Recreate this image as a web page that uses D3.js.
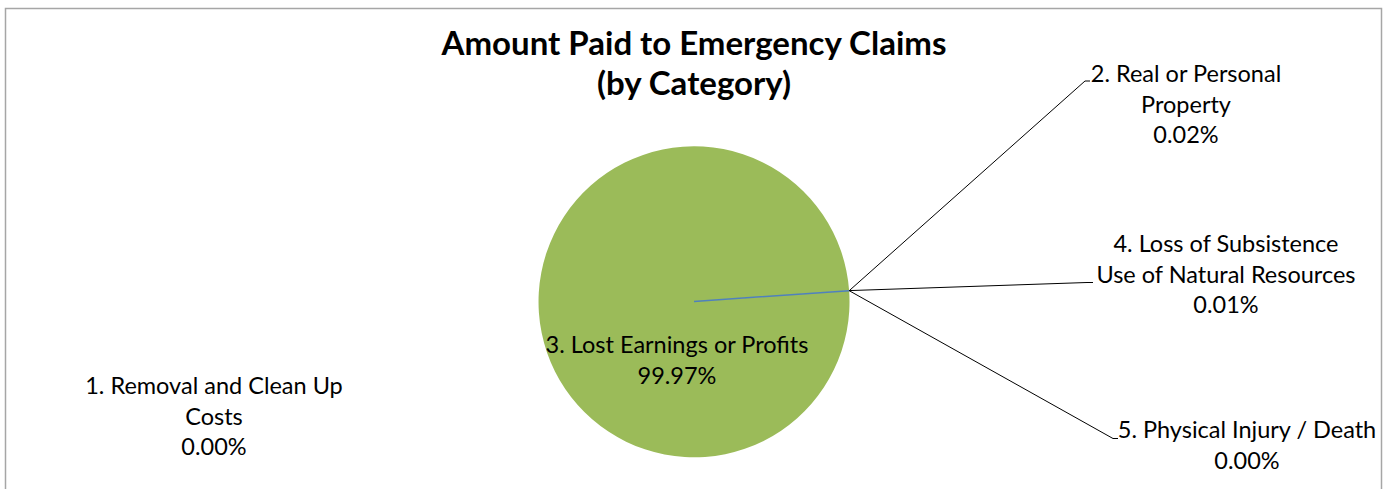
<!DOCTYPE html>
<html>
<head>
<meta charset="utf-8">
<script src="https://cdn.jsdelivr.net/npm/d3@7"></script>
<style>
  html, body { margin: 0; padding: 0; background: #fff; }
  svg { display: block; }
  text { font-family: Lato, "Open Sans", sans-serif; fill: #000; }
</style>
</head>
<body>
<script>
// ---- data ----
const categories = [
  "1. Removal and Clean Up Costs",
  "2. Real or Personal Property",
  "3. Lost Earnings or Profits",
  "4. Loss of Subsistence Use of Natural Resources",
  "5. Physical Injury / Death"
];
const labelLines = [
  ["1. Removal and Clean Up", "Costs"],
  ["2. Real or Personal", "Property"],
  ["3. Lost Earnings or Profits"],
  ["4. Loss of Subsistence", "Use of Natural Resources"],
  ["5. Physical Injury / Death"]
];
const percentValues = [0.00, 0.02, 99.97, 0.01, 0.00];
const sliceColors = ["#4F81BD", "#C0504D", "#9BBB59", "#8064A2", "#4BACC6"];
const titleLines = ["Amount Paid to Emergency Claims", "(by Category)"];

// ---- layout ----
const W = 1386, H = 489;
const cx = 694, cy = 301.5, R = 155.5;
const firstSliceAngle = 86 * Math.PI / 180;
// label anchor (center x, first baseline) and leader elbow
const labelLayout = [
  { x: 214, y: 394, leader: null },
  { x: 1186, y: 82, leader: [[1085, 81], [1090, 81]] },
  { x: 677, y: 353, leader: null },
  { x: 1226, y: 252, leader: [[1087, 282.5], [1093, 282.5]] },
  { x: 1247, y: 438, leader: [[1113, 438.5], [1118, 438.5]] }
];
const lineGap = 30.5;

const svg = d3.select("body").append("svg").attr("width", W).attr("height", H);

svg.append("rect")
  .attr("x", 5.5).attr("y", 8.5)
  .attr("width", 1376).attr("height", H + 20)
  .attr("fill", "#fff").attr("stroke", "#A6A6A6").attr("stroke-width", 1.5);

// title
svg.append("text")
  .attr("x", 694).attr("y", 55)
  .attr("text-anchor", "middle")
  .style("font-weight", "bold").style("font-size", "33px")
  .selectAll("tspan").data(titleLines).join("tspan")
  .attr("x", 694).attr("dy", (d, i) => i === 0 ? 0 : 40)
  .text(d => d);

const data = categories.map((c, i) => ({ name: c, value: percentValues[i], color: sliceColors[i], i }));
const pie = d3.pie().sort(null).value(d => d.value)
  .startAngle(firstSliceAngle).endAngle(firstSliceAngle + 2 * Math.PI);
const arcs = pie(data);
const arc = d3.arc().innerRadius(0).outerRadius(R);

const g = svg.append("g").attr("transform", `translate(${cx},${cy})`);
// big slice first, tiny slices on top
const order = arcs.slice().sort((a, b) => (b.endAngle - b.startAngle) - (a.endAngle - a.startAngle));
g.selectAll("path.slice").data(order).join("path")
  .attr("class", "slice")
  .attr("d", arc)
  .attr("fill", d => d.data.color)
  .attr("stroke", d => d.data.i === 0 ? d.data.color : "none")
  .attr("stroke-width", 1.5);

const fmt = v => v.toFixed(2) + "%";
const total = d3.sum(percentValues);

// leader lines
arcs.forEach((a, i) => {
  const lay = labelLayout[i];
  if (!lay.leader) return;
  const mid = (a.startAngle + a.endAngle) / 2;
  const ex = cx + R * Math.sin(mid), ey = cy - R * Math.cos(mid);
  svg.append("polyline")
    .attr("points", [[ex, ey], ...lay.leader].map(p => p.join(",")).join(" "))
    .attr("fill", "none").attr("stroke", "#000").attr("stroke-width", 1);
});

// labels
arcs.forEach((a, i) => {
  const lay = labelLayout[i];
  const lines = labelLines[i].concat([fmt(100 * a.data.value / total)]);
  const t = svg.append("text").attr("text-anchor", "middle").style("font-size", "23.5px")
    .attr("x", lay.x).attr("y", lay.y);
  t.selectAll("tspan").data(lines).join("tspan")
    .attr("x", lay.x).attr("dy", (d, k) => k === 0 ? 0 : lineGap)
    .text(d => d);
});
</script>
</body>
</html>
